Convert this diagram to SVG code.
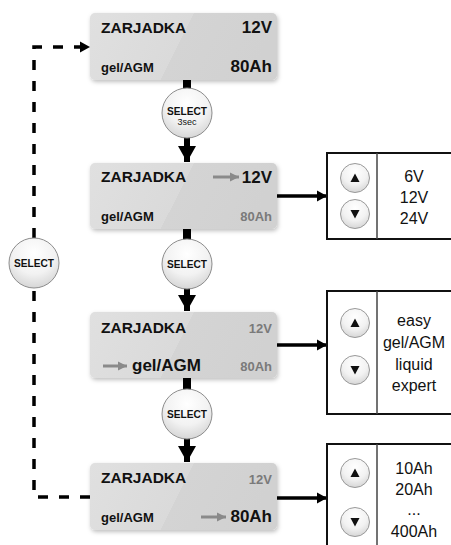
<svg xmlns="http://www.w3.org/2000/svg" width="451" height="545" viewBox="0 0 451 545">
<defs>
<linearGradient id="boxg" x1="0" y1="0" x2="1" y2="0.18">
<stop offset="0" stop-color="#e0e0e0"/>
<stop offset="0.54" stop-color="#dadada"/>
<stop offset="0.54" stop-color="#d4d4d4"/>
<stop offset="1" stop-color="#d1d1d1"/>
</linearGradient>
<radialGradient id="btng" cx="0.5" cy="0.3" r="0.7">
<stop offset="0" stop-color="#ffffff"/>
<stop offset="0.6" stop-color="#f2f2f2"/>
<stop offset="1" stop-color="#d6d6d6"/>
</radialGradient>
<filter id="shadow" x="-10%" y="-10%" width="125%" height="135%">
<feDropShadow dx="1" dy="2" stdDeviation="2" flood-color="#000" flood-opacity="0.25"/>
</filter>
<marker id="ah" markerUnits="userSpaceOnUse" markerWidth="12" markerHeight="12" refX="10" refY="6" orient="auto">
<path d="M0,0.5 L10,6 L0,11.5 Z" fill="#000"/>
</marker>
<marker id="ahbig" markerUnits="userSpaceOnUse" markerWidth="18" markerHeight="18" refX="16" refY="9" orient="auto">
<path d="M0,0 L16,9 L0,18 Z" fill="#000"/>
</marker>
<marker id="ahgray" markerUnits="userSpaceOnUse" markerWidth="10" markerHeight="10" refX="9" refY="5" orient="auto">
<path d="M0,0.5 L9,5 L0,9.5 Z" fill="#8a8a8a"/>
</marker>
</defs>
<style>
.box{fill:url(#boxg);filter:url(#shadow);}
.t{font-family:"Liberation Sans",Arial,sans-serif;font-weight:bold;fill:#111;}
.title{font-size:15.5px;}
.sm{font-size:13px;}
.big{font-size:17px;}
.gray{fill:#7a7a7a;}
.garrow{stroke:#8a8a8a;stroke-width:3;fill:none;marker-end:url(#ahgray);}
.sel{fill:url(#btng);stroke:#8c8c8c;stroke-width:1;}
.selt{font-family:"Liberation Sans",Arial,sans-serif;font-weight:bold;font-size:11.5px;fill:#111;text-anchor:middle;}
.panel{fill:#fff;stroke:#111;stroke-width:2;}
.div{stroke:#444;stroke-width:1.5;}
.opt{font-family:"Liberation Sans",Arial,sans-serif;font-size:16px;fill:#111;text-anchor:middle;}
.btn{fill:url(#btng);stroke:#999;stroke-width:1;}
.conn{stroke:#000;fill:none;}
</style>

<g id="connectors">
<path class="conn" d="M90,497 H34 V47 H90" stroke-width="3.5" stroke-dasharray="10 11" marker-end="url(#ah)"/>
<line class="conn" x1="187" y1="80" x2="187" y2="100" stroke-width="8"/>
<line class="conn" x1="187" y1="130" x2="187" y2="162" stroke-width="6" marker-end="url(#ahbig)"/>
<line class="conn" x1="187" y1="229" x2="187" y2="250" stroke-width="8"/>
<line class="conn" x1="187" y1="280" x2="187" y2="311" stroke-width="6" marker-end="url(#ahbig)"/>
<line class="conn" x1="187" y1="378" x2="187" y2="400" stroke-width="8"/>
<line class="conn" x1="187" y1="430" x2="187" y2="462" stroke-width="6" marker-end="url(#ahbig)"/>
<line class="conn" x1="277" y1="196" x2="327" y2="196" stroke-width="3.5" marker-end="url(#ah)"/>
<line class="conn" x1="277" y1="345" x2="327" y2="345" stroke-width="3.5" marker-end="url(#ah)"/>
<line class="conn" x1="277" y1="498" x2="327" y2="498" stroke-width="3.5" marker-end="url(#ah)"/>
</g>

<g id="box1">
<rect class="box" x="90" y="13" width="187" height="67" rx="5"/>
<text class="t title" x="101" y="33">ZARJADKA</text>
<text class="t big" x="272" y="33" text-anchor="end">12V</text>
<text class="t sm" x="101" y="72">gel/AGM</text>
<text class="t big" x="272" y="72" text-anchor="end">80Ah</text>
</g>

<g id="box2">
<rect class="box" x="90" y="163" width="187" height="66" rx="5"/>
<text class="t title" x="101" y="182">ZARJADKA</text>
<line class="garrow" x1="213" y1="177" x2="239" y2="177"/>
<text class="t big" x="272" y="183" text-anchor="end">12V</text>
<text class="t sm" x="101" y="221">gel/AGM</text>
<text class="t sm gray" x="272" y="221" text-anchor="end">80Ah</text>
</g>

<g id="box3">
<rect class="box" x="90" y="312" width="187" height="66" rx="5"/>
<text class="t title" x="101" y="333">ZARJADKA</text>
<text class="t sm gray" x="272" y="333" text-anchor="end">12V</text>
<line class="garrow" x1="103" y1="366" x2="127" y2="366"/>
<text class="t big" x="132" y="371">gel/AGM</text>
<text class="t sm gray" x="272" y="371" text-anchor="end">80Ah</text>
</g>

<g id="box4">
<rect class="box" x="90" y="463" width="187" height="67" rx="5"/>
<text class="t title" x="101" y="483">ZARJADKA</text>
<text class="t sm gray" x="272" y="484" text-anchor="end">12V</text>
<text class="t sm" x="101" y="522">gel/AGM</text>
<line class="garrow" x1="201" y1="517" x2="226" y2="517"/>
<text class="t big" x="272" y="522" text-anchor="end">80Ah</text>
</g>

<g id="select1">
<circle class="sel" cx="187" cy="113" r="25"/>
<text class="selt" x="187" y="115" textLength="40" lengthAdjust="spacingAndGlyphs">SELECT</text>
<text x="187" y="125" font-family="Liberation Sans,Arial,sans-serif" font-size="9" fill="#111" text-anchor="middle">3sec</text>
</g>
<g id="select2">
<circle class="sel" cx="187" cy="264" r="25"/>
<text class="selt" x="187" y="268" textLength="40" lengthAdjust="spacingAndGlyphs">SELECT</text>
</g>
<g id="select3">
<circle class="sel" cx="187" cy="414" r="25"/>
<text class="selt" x="187" y="418" textLength="40" lengthAdjust="spacingAndGlyphs">SELECT</text>
</g>
<g id="select-left">
<circle class="sel" cx="34" cy="263" r="25"/>
<text class="selt" x="34" y="267" textLength="40" lengthAdjust="spacingAndGlyphs">SELECT</text>
</g>

<g id="panel-voltage">
<rect class="panel" x="327" y="153" width="130" height="86"/>
<line class="div" x1="377" y1="153" x2="377" y2="239"/>
<circle class="btn" cx="355" cy="178" r="14.5"/>
<path d="M355,173.5 L359.5,182 L350.5,182 Z" fill="#111"/>
<circle class="btn" cx="355" cy="214" r="14.5"/>
<path d="M355,218.5 L359.5,210 L350.5,210 Z" fill="#111"/>
<text class="opt" x="414" y="182">6V</text>
<text class="opt" x="414" y="203">12V</text>
<text class="opt" x="414" y="224">24V</text>
</g>

<g id="panel-type">
<rect class="panel" x="327" y="291" width="130" height="123"/>
<line class="div" x1="377" y1="291" x2="377" y2="414"/>
<circle class="btn" cx="355" cy="323" r="14.5"/>
<path d="M355,318.5 L359.5,327 L350.5,327 Z" fill="#111"/>
<circle class="btn" cx="355" cy="370" r="14.5"/>
<path d="M355,374.5 L359.5,366 L350.5,366 Z" fill="#111"/>
<text class="opt" x="414" y="326">easy</text>
<text class="opt" x="414" y="348">gel/AGM</text>
<text class="opt" x="414" y="370">liquid</text>
<text class="opt" x="414" y="391">expert</text>
</g>

<g id="panel-capacity">
<rect class="panel" x="327" y="444" width="130" height="110"/>
<line class="div" x1="377" y1="444" x2="377" y2="554"/>
<circle class="btn" cx="355" cy="473" r="14.5"/>
<path d="M355,468.5 L359.5,477 L350.5,477 Z" fill="#111"/>
<circle class="btn" cx="355" cy="522" r="14.5"/>
<path d="M355,526.5 L359.5,518 L350.5,518 Z" fill="#111"/>
<text class="opt" x="414" y="474">10Ah</text>
<text class="opt" x="414" y="495">20Ah</text>
<text class="opt" x="414" y="515">...</text>
<text class="opt" x="414" y="537">400Ah</text>
</g>
</svg>
